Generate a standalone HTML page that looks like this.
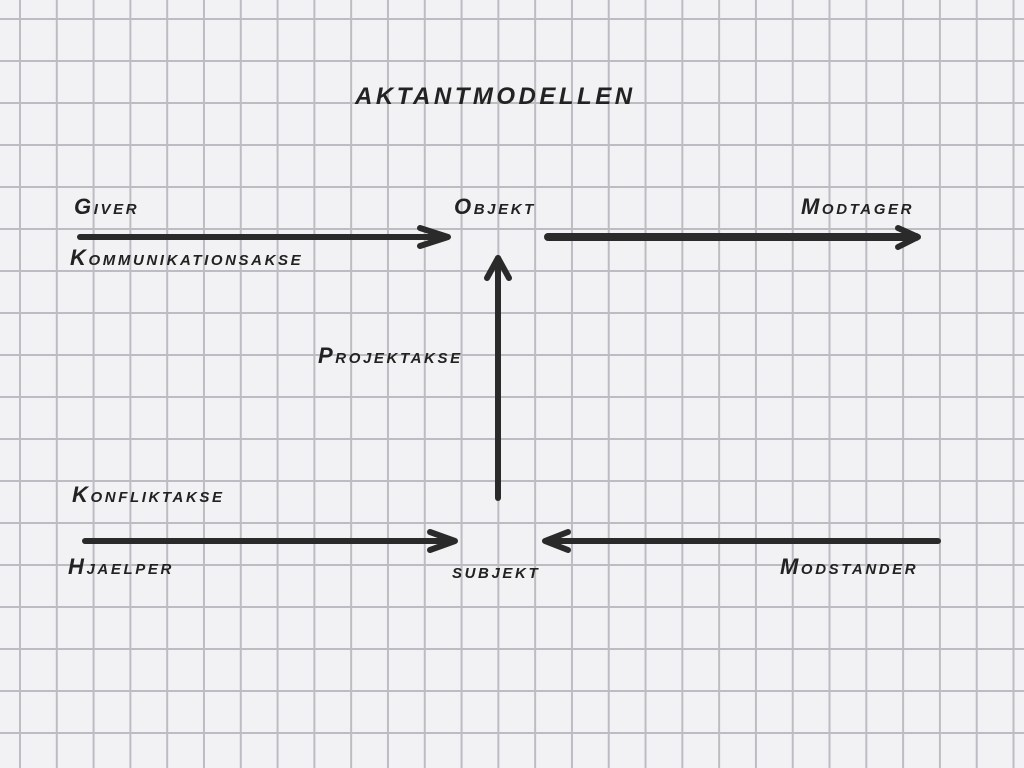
<!DOCTYPE html>
<html><head><style>
html,body{margin:0;padding:0}
body{width:1024px;height:768px;overflow:hidden;position:relative;background-color:#f2f2f4;
background-image:linear-gradient(to right,#bcbcc2 2px,transparent 2px),linear-gradient(to bottom,#bcbcc2 2px,transparent 2px);
background-size:36.8px 42px;background-position:19px 18px;}
.t{position:absolute;font-family:"Liberation Sans",sans-serif;font-weight:bold;font-style:italic;font-variant:small-caps;color:#222;font-size:22px;letter-spacing:2.6px;white-space:nowrap}
svg{position:absolute;left:0;top:0}
</style></head><body>
<div class="t" style="left:355px;top:83px;font-size:24px;letter-spacing:3.5px">AKTANTMODELLEN</div>
<div class="t" style="left:74px;top:194px">Giver</div>
<div class="t" style="left:454px;top:194px">Objekt</div>
<div class="t" style="left:801px;top:194px">Modtager</div>
<div class="t" style="left:70px;top:245px">Kommunikationsakse</div>
<div class="t" style="left:318px;top:343px">Projektakse</div>
<div class="t" style="left:72px;top:482px">Konfliktakse</div>
<div class="t" style="left:68px;top:554px">Hjaelper</div>
<div class="t" style="left:452px;top:558px">subjekt</div>
<div class="t" style="left:780px;top:554px">Modstander</div>
<svg width="1024" height="768">
<g stroke="#2a2a2a" stroke-width="6" fill="none" stroke-linecap="round" stroke-linejoin="round">
<line x1="80" y1="237" x2="445" y2="237"/>
<polyline points="420,228 448,237 420,246"/>
<line x1="548" y1="237" x2="916" y2="237" stroke-width="8"/>
<polyline points="898,228 918,237 898,247"/>
<line x1="498" y1="498" x2="498" y2="258"/>
<polyline points="487,278 498,258 509,278"/>
<line x1="85" y1="541" x2="452" y2="541"/>
<polyline points="430,532 455,541 430,550"/>
<line x1="938" y1="541" x2="548" y2="541"/>
<polyline points="568,532 545,541 568,550"/>
</g>
</svg>
</body></html>
